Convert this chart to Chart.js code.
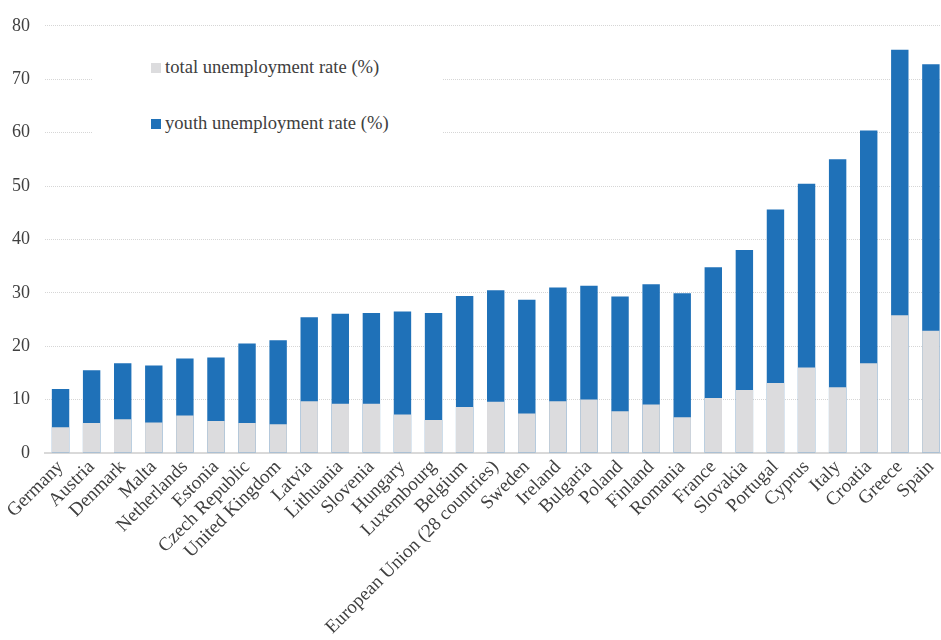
<!DOCTYPE html>
<html>
<head>
<meta charset="utf-8">
<script src="https://cdn.jsdelivr.net/npm/chart.js@4/dist/chart.umd.min.js"></script>
<style>
  html, body { margin: 0; padding: 0; background: #fff; overflow: hidden; }
  #wrap { position: relative; width: 950px; height: 640px; }
  #legend { position: absolute; left: 93px; top: 50px; width: 349px; height: 96px; background: #fff;
            font-family: "Liberation Serif", serif; font-size: 18.6px; color: #404040; }
  .item { position: absolute; left: 58px; white-space: nowrap; line-height: 20px; }
  .sw { display: inline-block; width: 10px; height: 10px; margin-right: 4px; }
</style>
</head>
<body>
<div id="wrap">
  <canvas id="c" width="950" height="640"></canvas>
  <div id="legend">
    <div class="item" style="top:7px"><span class="sw" style="background:#dcdcde"></span>total unemployment rate (%)</div>
    <div class="item" style="top:63px"><span class="sw" style="background:#1f71b8"></span>youth unemployment rate (%)</div>
  </div>
</div>
<script>
const countries = ["Germany","Austria","Denmark","Malta","Netherlands","Estonia","Czech Republic","United Kingdom","Latvia","Lithuania","Slovenia","Hungary","Luxembourg","Belgium","European Union (28 countries)","Sweden","Ireland","Bulgaria","Poland","Finland","Romania","France","Slovakia","Portugal","Cyprus","Italy","Croatia","Greece","Spain"];
const totalRate = [4.8,5.6,6.3,5.7,7.0,6.0,5.6,5.4,9.7,9.2,9.2,7.2,6.2,8.6,9.6,7.4,9.7,10.0,7.8,9.1,6.7,10.3,11.8,13.1,16.0,12.3,16.8,25.8,22.9];
const youthRate = [12.0,15.5,16.8,16.4,17.7,17.9,20.5,21.1,25.4,26.1,26.2,26.5,26.2,29.4,30.5,28.7,31.0,31.3,29.3,31.6,29.9,34.8,38.0,45.6,50.4,55.0,60.4,75.5,72.8];
const yTicks = [0,10,20,30,40,50,60,70,80];

const fam = "'Liberation Serif', serif";
new Chart(document.getElementById('c'), {
  type: 'bar',
  data: {
    labels: countries,
    datasets: [
      { label: 'total unemployment rate (%)', data: totalRate, backgroundColor: '#dcdcde', barPercentage: 0.56, categoryPercentage: 1.0 },
      { label: 'youth unemployment rate (%)', data: youthRate, backgroundColor: '#1f71b8', barPercentage: 0.56, categoryPercentage: 1.0 }
    ]
  },
  options: {
    responsive: false,
    animation: false,
    layout: { padding: { top: 6, right: 0, left: 0, bottom: 0 } },
    plugins: { legend: { display: false }, tooltip: { enabled: false } },
    scales: {
      x: {
        stacked: true,
        grid: { display: false, drawTicks: false },
        border: { display: true, color: '#d9d9d9', width: 2 },
        ticks: { font: { family: fam, size: 19 }, color: '#404040', minRotation: 45, maxRotation: 45, autoSkip: false, padding: 3 },
        afterFit: s => { s.height = 187; }
      },
      y: {
        stacked: false,
        min: 0, max: 80,
        afterBuildTicks: s => { s.ticks = yTicks.map(v => ({ value: v })); },
        grid: { color: '#d6d6d6', drawTicks: false, lineWidth: 1 },
        border: { display: false, dash: [1, 1] },
        ticks: { font: { family: fam, size: 18 }, color: '#404040', padding: 15 },
        afterFit: s => { s.width = 45; }
      }
    }
  }
});
</script>
</body>
</html>
